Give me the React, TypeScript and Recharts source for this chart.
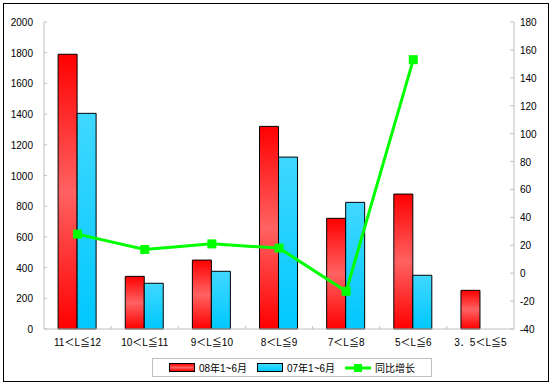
import React from "react";
import { ComposedChart, Bar, Line, XAxis, YAxis, Legend } from "recharts";

// length classes (m)
const categories = ["11＜L≦12", "10＜L≦11", "9＜L≦10", "8＜L≦9", "7＜L≦8", "5＜L≦6", "3．5＜L≦5"];
const sales08 = [1790, 343, 449, 1320, 721, 879, 252];
const sales07: (number | null)[] = [1405, 298, 376, 1120, 825, 350, null];
const growth: (number | null)[] = [28, 17, 21, 18, -13, 153, null];
const leftTicks = [0, 200, 400, 600, 800, 1000, 1200, 1400, 1600, 1800, 2000];
const rightTicks = [-40, -20, 0, 20, 40, 60, 80, 100, 120, 140, 160, 180];

const data = categories.map((name, i) => ({
  name,
  s08: sales08[i],
  s07: sales07[i],
  g: growth[i],
}));

const FONT = "'Liberation Sans', Arial, 'Noto Sans CJK SC', sans-serif";
const GRAY = "#c0c0c0";
const PLOT_W = 470;
const BAND = PLOT_W / categories.length;

const LeftTick = (props: any) => {
  const { x, y, payload } = props;
  return (
    <g>
      <line x1={x + 11} x2={x + 14} y1={y} y2={y} stroke={GRAY} />
      <text x={x} y={y} dy={4} textAnchor="end" fontSize={10} fontFamily={FONT} fill="#000">
        {payload.value}
      </text>
    </g>
  );
};

const RightTick = (props: any) => {
  const { x, y, payload } = props;
  return (
    <g>
      <line x1={x - 10} x2={x - 6} y1={y} y2={y} stroke={GRAY} />
      <text x={x} y={y} dy={4} textAnchor="start" fontSize={10} fontFamily={FONT} fill="#000">
        {payload.value}
      </text>
    </g>
  );
};

const BottomTick = (props: any) => {
  const { x, y, payload, index } = props;
  const y0 = y - 9;
  return (
    <g>
      {index > 0 && <line x1={x - BAND / 2} x2={x - BAND / 2} y1={y0 - 3} y2={y0} stroke={GRAY} />}
      <text x={x} y={y} dy={8} textAnchor="middle" fontSize={10} fontFamily={FONT} fill="#000">
        {payload.value}
      </text>
    </g>
  );
};

const SquareDot = (props: any) => {
  const { cx, cy, value } = props;
  if (value == null || cx == null || cy == null) return null;
  return <rect x={cx - 4.5} y={cy - 4.5} width={9} height={9} fill="#00ff00" />;
};

const LegendBox = () => (
  <div
    style={{
      border: `1px solid ${GRAY}`,
      height: 19,
      boxSizing: "border-box",
      display: "flex",
      alignItems: "center",
      justifyContent: "center",
      fontFamily: FONT,
      fontSize: 10,
      color: "#000",
      gap: 4,
    }}
  >
    <span style={{ display: "inline-block", width: 24, height: 7, border: "1px solid #000", background: "linear-gradient(#ff0000, #ff6060, #ff0000)" }} />
    <span style={{ marginRight: 6 }}>08年1~6月</span>
    <span style={{ display: "inline-block", width: 24, height: 7, border: "1px solid #000", background: "linear-gradient(#40d8ff, #00ccff)" }} />
    <span style={{ marginRight: 6 }}>07年1~6月</span>
    <svg width={26} height={10}>
      <line x1={0} x2={26} y1={5} y2={5} stroke="#00ff00" strokeWidth={3} />
      <rect x={9} y={1} width={8} height={8} fill="#00ff00" />
    </svg>
    <span>同比增长</span>
  </div>
);

export default function App() {
  return (
    <div style={{ position: "absolute", left: 0, top: 0, width: 553, height: 386, background: "#fff" }}>
      <div
        style={{
          position: "absolute",
          left: 3,
          top: 3,
          width: 546,
          height: 379,
          border: "1px solid #000",
          boxSizing: "border-box",
        }}
      />
      <ComposedChart
        width={553}
        height={386}
        data={data}
        margin={{ top: 22, right: 0, bottom: 17, left: 0 }}
        barCategoryGap="21%"
        barGap={0}
        style={{ position: "absolute", left: 0, top: 0 }}
      >
        <defs>
          <linearGradient id="redGrad" x1="0" y1="0" x2="0" y2="1">
            <stop offset="0%" stopColor="#ff0000" />
            <stop offset="50%" stopColor="#ff6262" />
            <stop offset="100%" stopColor="#ff0000" />
          </linearGradient>
          <linearGradient id="blueGrad" x1="0" y1="0" x2="0" y2="1">
            <stop offset="0%" stopColor="#40d8ff" />
            <stop offset="100%" stopColor="#00c8ff" />
          </linearGradient>
        </defs>
        <XAxis
          dataKey="name"
          xAxisId="main"
          height={21}
          interval={0}
          tickSize={0}
          tickMargin={9}
          axisLine={{ stroke: GRAY }}
          tickLine={false}
          tick={<BottomTick />}
        />
        <XAxis
          dataKey="name"
          xAxisId="top"
          orientation="top"
          height={0}
          tick={false}
          tickLine={false}
          axisLine={{ stroke: GRAY }}
        />
        <YAxis
          yAxisId="left"
          width={44}
          domain={[0, 2000]}
          ticks={leftTicks}
          interval={0}
          tickSize={0}
          tickMargin={11}
          axisLine={{ stroke: GRAY }}
          tickLine={false}
          tick={<LeftTick />}
        />
        <YAxis
          yAxisId="right"
          orientation="right"
          width={39}
          domain={[-40, 180]}
          ticks={rightTicks}
          interval={0}
          tickSize={0}
          tickMargin={6}
          axisLine={{ stroke: GRAY }}
          tickLine={false}
          tick={<RightTick />}
        />
        <Bar
          dataKey="s08"
          name="08年1~6月"
          xAxisId="main"
          yAxisId="left"
          fill="url(#redGrad)"
          stroke="#000"
          strokeWidth={1}
          isAnimationActive={false}
        />
        <Bar
          dataKey="s07"
          name="07年1~6月"
          xAxisId="main"
          yAxisId="left"
          fill="url(#blueGrad)"
          stroke="#000"
          strokeWidth={1}
          isAnimationActive={false}
        />
        <Line
          dataKey="g"
          name="同比增长"
          xAxisId="main"
          yAxisId="right"
          stroke="#00ff00"
          strokeWidth={3}
          dot={<SquareDot />}
          activeDot={false}
          connectNulls={false}
          isAnimationActive={false}
        />
        <Legend
          content={<LegendBox />}
          wrapperStyle={{ position: "absolute", left: 152, top: 358, width: 280, height: 19 }}
        />
      </ComposedChart>
    </div>
  );
}
